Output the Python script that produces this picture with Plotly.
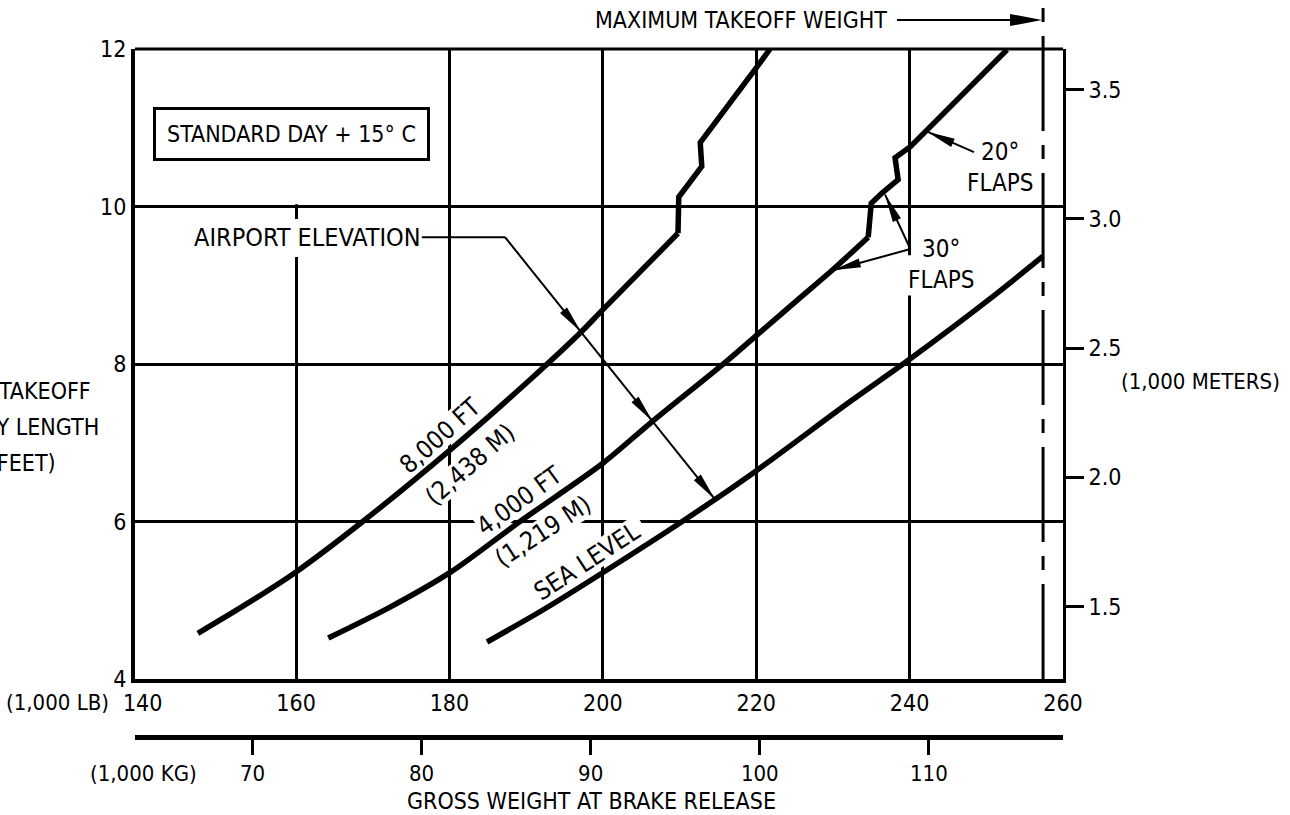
import math
import plotly.graph_objects as go

# ---------------------------------------------------------------------------
# Takeoff runway length vs. gross weight at brake release (standard day + 15 C)
# ---------------------------------------------------------------------------

# Gross weight (1,000 lb) and runway length (1,000 ft) for each airport elevation.
weight_8000 = [147.2, 153.5, 160.0, 168.7, 180.1, 190.5, 197.0, 200.0,
               209.8, 209.9, 212.9, 212.7, 220.0, 221.8]
runway_8000 = [4.58, 4.95, 5.36, 6.00, 6.91, 7.80, 8.39, 8.69,
               9.66, 10.12, 10.51, 10.81, 11.76, 12.00]

weight_4000 = [164.2, 172.2, 180.2, 189.2, 200.0, 206.2, 216.2, 220.0, 225.7,
               229.9, 234.6, 235.0, 236.4, 238.5, 238.1, 240.1, 252.7]
runway_4000 = [4.52, 4.91, 5.36, 6.00, 6.74, 7.25, 8.04, 8.36, 8.84,
               9.19, 9.61, 10.04, 10.17, 10.34, 10.62, 10.76, 11.99]

weight_sea = [184.9, 193.1, 210.5, 219.8, 232.2, 240.0, 250.5, 257.4]
runway_sea = [4.47, 4.93, 6.01, 6.63, 7.52, 8.06, 8.83, 9.37]

# index where each curve leaves its smooth 30-degree-flap branch and starts
# the flap-change steps
flap_step_8000 = 8
flap_step_4000 = 10

max_takeoff_weight = 257.4          # 1,000 lb

lb_ticks = [140, 160, 180, 200, 220, 240, 260]
ft_ticks = [4, 6, 8, 10, 12]
kg_ticks = [70, 80, 90, 100, 110]
m_ticks = [1.5, 2.0, 2.5, 3.0, 3.5]
m_tick_text = ["1.5", "2.0", "2.5", "3.0", "3.5"]

LB_PER_KG = 2.20462
FT_PER_M = 3.28084

# ---------------------------------------------------------------------------
FONT = "DejaVu Sans Condensed, DejaVu Sans, sans-serif"
X_RANGE = [139, 260]
Y_RANGE = [4, 12]
W, H = 1290, 815
M_L, M_R, M_T, M_B = 135, 227, 49, 78
PLOT_W = W - M_L - M_R
PAPER_H = H - M_T - M_B
PLOT_H = 630
Y_DOMAIN0 = (PAPER_H - PLOT_H) / PAPER_H
PX_X = PLOT_W / (X_RANGE[1] - X_RANGE[0])
PX_Y = PLOT_H / (Y_RANGE[1] - Y_RANGE[0])


def to_px(x, y):
    return ((x - X_RANGE[0]) * PX_X, (y - Y_RANGE[0]) * PX_Y)


def xpaper(x):
    return (x - X_RANGE[0]) / (X_RANGE[1] - X_RANGE[0])


def crossing(p0, p1, xs, ys):
    """First point where segment p0->p1 meets the polyline (xs, ys)."""
    ax, ay = to_px(*p0)
    bx, by = to_px(*p1)
    d1 = (bx - ax, by - ay)
    best = None
    for i in range(len(xs) - 1):
        cx, cy = to_px(xs[i], ys[i])
        ex, ey = to_px(xs[i + 1], ys[i + 1])
        d2 = (ex - cx, ey - cy)
        den = d1[0] * d2[1] - d1[1] * d2[0]
        if abs(den) < 1e-12:
            continue
        t = ((cx - ax) * d2[1] - (cy - ay) * d2[0]) / den
        u = ((cx - ax) * d1[1] - (cy - ay) * d1[0]) / den
        if 0 <= t <= 1 and 0 <= u <= 1 and (best is None or t < best):
            best = t
    return (p0[0] + best * (p1[0] - p0[0]), p0[1] + best * (p1[1] - p0[1]))


def arrowhead(tip, tail, length=28, width=9):
    """Filled, slender arrowhead drawn in pixel units at a data point."""
    dx = (tip[0] - tail[0]) * PX_X
    dy = (tip[1] - tail[1]) * PX_Y
    n = math.hypot(dx, dy)
    ux, uy = dx / n, dy / n
    bx, by = -ux * length, -uy * length
    nx, ny = -uy * width / 2, ux * width / 2
    path = (f"M0,0 L{bx + nx:.2f},{by + ny:.2f} "
            f"L{bx - nx:.2f},{by - ny:.2f} Z")
    return dict(type="path", xref="x", yref="y", xsizemode="pixel",
                ysizemode="pixel", xanchor=tip[0], yanchor=tip[1], path=path,
                fillcolor="black", line=dict(width=0), layer="above")


def leader(p0, p1, width=2):
    return dict(type="line", xref="x", yref="y", x0=p0[0], y0=p0[1],
                x1=p1[0], y1=p1[1], line=dict(color="black", width=width),
                layer="above")


def label_mask(x, y, w, h, textangle):
    """White patch (between grid and curves) under a rotated label."""
    a = math.radians(-textangle)
    d = (math.cos(a), math.sin(a))
    nrm = (-math.sin(a), math.cos(a))
    pts = []
    for sw, sh in [(-1, -1), (1, -1), (1, 1), (-1, 1)]:
        pts.append((sw * w / 2 * d[0] + sh * h / 2 * nrm[0],
                    sw * w / 2 * d[1] + sh * h / 2 * nrm[1]))
    path = "M" + " L".join(f"{px:.2f},{py:.2f}" for px, py in pts) + " Z"
    return dict(type="path", xref="x", yref="y", xsizemode="pixel",
                ysizemode="pixel", xanchor=x, yanchor=y, path=path,
                fillcolor="white", line=dict(width=0), layer="between")


def grid_gap(x0, x1, y0, y1):
    """White patch that interrupts grid lines without touching the curves."""
    return dict(type="rect", xref="x", yref="y", x0=x0, x1=x1, y0=y0, y1=y1,
                fillcolor="white", line=dict(width=0), layer="between")


fig = go.Figure()

smooth = dict(mode="lines", line=dict(color="black", width=5.5,
                                      shape="spline", smoothing=0.8),
              hoverinfo="skip", showlegend=False)
stepped = dict(mode="lines", line=dict(color="black", width=5.5),
               hoverinfo="skip", showlegend=False)

for xs, ys, k in [(weight_8000, runway_8000, flap_step_8000),
                  (weight_4000, runway_4000, flap_step_4000)]:
    fig.add_trace(go.Scatter(x=xs[:k + 1], y=ys[:k + 1], **smooth))
    fig.add_trace(go.Scatter(x=xs[k:], y=ys[k:], **stepped))
fig.add_trace(go.Scatter(x=weight_sea, y=runway_sea, **smooth))

# companion metric scales
fig.add_trace(go.Scatter(x=[], y=[], xaxis="x2", yaxis="y", showlegend=False))
fig.add_trace(go.Scatter(x=[], y=[], xaxis="x", yaxis="y2", showlegend=False))

shapes = []
annotations = []

# --- plot frame pieces -----------------------------------------------------
shapes.append(dict(type="line", xref="paper", yref="paper", x0=0, x1=1,
                   y0=1, y1=1, line=dict(color="black", width=3)))
# no vertical grid line behind the condition box
shapes.append(grid_gap(158.9, 161.1, 10.03, 12))

# --- maximum takeoff weight ------------------------------------------------
mtow_x = xpaper(max_takeoff_weight)
top_y = (PAPER_H + M_T) / PAPER_H
shapes.append(dict(type="line", xref="paper", yref="paper", x0=mtow_x,
                   x1=mtow_x, y0=Y_DOMAIN0, y1=top_y,
                   line=dict(color="black", width=3,
                             dash="95px,14px,14px,14px")))
mtow_label_y = (PAPER_H + M_T - 20) / PAPER_H
shapes.append(dict(type="line", xref="paper", yref="paper",
                   x0=(897 - M_L) / PLOT_W, x1=mtow_x - 20 / PLOT_W,
                   y0=mtow_label_y, y1=mtow_label_y,
                   line=dict(color="black", width=2)))
shapes.append(dict(type="path", xref="paper", yref="paper", xsizemode="pixel",
                   ysizemode="pixel", xanchor=mtow_x, yanchor=mtow_label_y,
                   path="M-1,0 L-33,6 L-33,-6 Z", fillcolor="black",
                   line=dict(width=0)))
annotations.append(dict(text="MAXIMUM TAKEOFF WEIGHT", xref="paper",
                        yref="paper", x=(889 - M_L) / PLOT_W, y=mtow_label_y,
                        xanchor="right", yanchor="middle", showarrow=False,
                        font=dict(size=23)))

# --- condition box ---------------------------------------------------------
annotations.append(dict(text="STANDARD DAY + 15° C", x=159.34, y=10.92,
                        xref="x", yref="y", showarrow=False,
                        font=dict(size=23), bgcolor="white",
                        bordercolor="black", borderwidth=3, borderpad=11))

# --- airport elevation leader ----------------------------------------------
elev_start = (176.4, 9.61)
elev_corner = (187.25, 9.61)
elev_far = (217.1, 5.98)
tips = [crossing(elev_corner, elev_far, xs, ys) for xs, ys in
        [(weight_8000, runway_8000), (weight_4000, runway_4000),
         (weight_sea, runway_sea)]]
shapes.append(grid_gap(146.3, 176.6, 9.36, 9.84))
annotations.append(dict(text="AIRPORT ELEVATION", x=176.6, y=9.61,
                        xref="x", yref="y", xanchor="right", yanchor="middle",
                        showarrow=False, font=dict(size=25)))
shapes.append(leader(elev_start, elev_corner))
shapes.append(leader(elev_corner, tips[-1]))
for tip in tips:
    shapes.append(arrowhead(tip, elev_corner))

# --- curve labels ----------------------------------------------------------
curve_labels = [
    ("8,000 FT", 178.8, 7.09, -42, 96),
    ("(2,438 M)", 182.7, 6.72, -41, 104),
    ("4,000 FT", 189.1, 6.27, -36, 98),
    ("(1,219 M)", 192.2, 5.87, -33, 100),
    ("SEA LEVEL", 197.9, 5.49, -33, 134),
]
for text, x, y, ang, w in curve_labels:
    shapes.append(label_mask(x, y, w, 26, ang))
    annotations.append(dict(text=text, x=x, y=y, xref="x", yref="y",
                            textangle=ang, showarrow=False,
                            font=dict(size=25)))

# --- flap labels -----------------------------------------------------------
annotations.append(dict(text="20°<br>FLAPS", x=251.8, y=10.49, xref="x",
                        yref="y", showarrow=False, align="center",
                        font=dict(size=24)))
flap20_tail = (248.4, 10.69)
flap20_tip = (242.3, 10.95)
shapes.append(leader(flap20_tail, flap20_tip))
shapes.append(arrowhead(flap20_tip, flap20_tail))

shapes.append(grid_gap(239.3, 249.0, 8.87, 9.38))
annotations.append(dict(text="30°<br>FLAPS", x=244.2, y=9.26, xref="x",
                        yref="y", showarrow=False, align="center",
                        font=dict(size=24)))
flap30_tail = (240.1, 9.46)
for tip in [(236.8, 10.15), (230.0, 9.19)]:
    shapes.append(leader(flap30_tail, tip))
    shapes.append(arrowhead(tip, flap30_tail))

# --- axis captions -----------------------------------------------------------
def pp(px, py):
    return (px - M_L) / PLOT_W, (PAPER_H + M_T - py) / PAPER_H


for text, (px, py), anchor, size in [
    ("TAKEOFF", (93, 391), "right", 23),
    ("RUNWAY LENGTH", (101, 427), "right", 23),
    ("(1,000 FEET)", (58, 463), "right", 23),
    ("(1,000 METERS)", (1200, 381), "center", 22),
    ("(1,000 LB)", (57, 702), "center", 22),
    ("(1,000 KG)", (143, 773), "center", 22),
    ("GROSS WEIGHT AT BRAKE RELEASE", (591, 801), "center", 23),
]:
    x, y = pp(px, py)
    annotations.append(dict(text=text, x=x, y=y, xref="paper", yref="paper",
                            xanchor=anchor, yanchor="middle", showarrow=False,
                            font=dict(size=size)))

axis_common = dict(color="black", zeroline=False, linecolor="black",
                   tickfont=dict(size=23, family=FONT))

fig.update_layout(
    width=W, height=H,
    margin=dict(l=M_L, r=M_R, t=M_T, b=M_B, autoexpand=False),
    paper_bgcolor="white", plot_bgcolor="white", showlegend=False,
    font=dict(family=FONT, size=24, color="black"),
    # the left frame stands in for the 140 grid line, so the vertical grid
    # is drawn from 160 upward as minor grid lines
    xaxis=dict(range=X_RANGE, tickvals=lb_ticks, showgrid=False,
               minor=dict(tickvals=lb_ticks[1:], showgrid=True,
                          gridcolor="black", gridwidth=2.5, ticks=""),
               showline=True, linewidth=4, ticks="", **axis_common),
    yaxis=dict(range=Y_RANGE, domain=[Y_DOMAIN0, 1], tickvals=ft_ticks,
               showgrid=True, gridcolor="black", gridwidth=2.5,
               showline=True, linewidth=4, ticks="", **axis_common),
    xaxis2=dict(overlaying="x", anchor="free", position=0, side="bottom",
                range=[X_RANGE[0] / LB_PER_KG, X_RANGE[1] / LB_PER_KG],
                tickvals=kg_ticks, ticks="outside", ticklen=15, tickwidth=3,
                tickcolor="black", showline=True, linewidth=5,
                showgrid=False, color="black", zeroline=False,
                linecolor="black", tickfont=dict(size=22, family=FONT)),
    yaxis2=dict(overlaying="y", anchor="x", side="right",
                range=[Y_RANGE[0] / FT_PER_M, Y_RANGE[1] / FT_PER_M],
                tickvals=m_ticks, ticktext=m_tick_text, ticks="outside",
                ticklen=18, tickwidth=3, tickcolor="black", showline=True,
                linewidth=3, showgrid=False, **axis_common),
    shapes=shapes,
    annotations=annotations,
)

fig.write_html("out.html")
